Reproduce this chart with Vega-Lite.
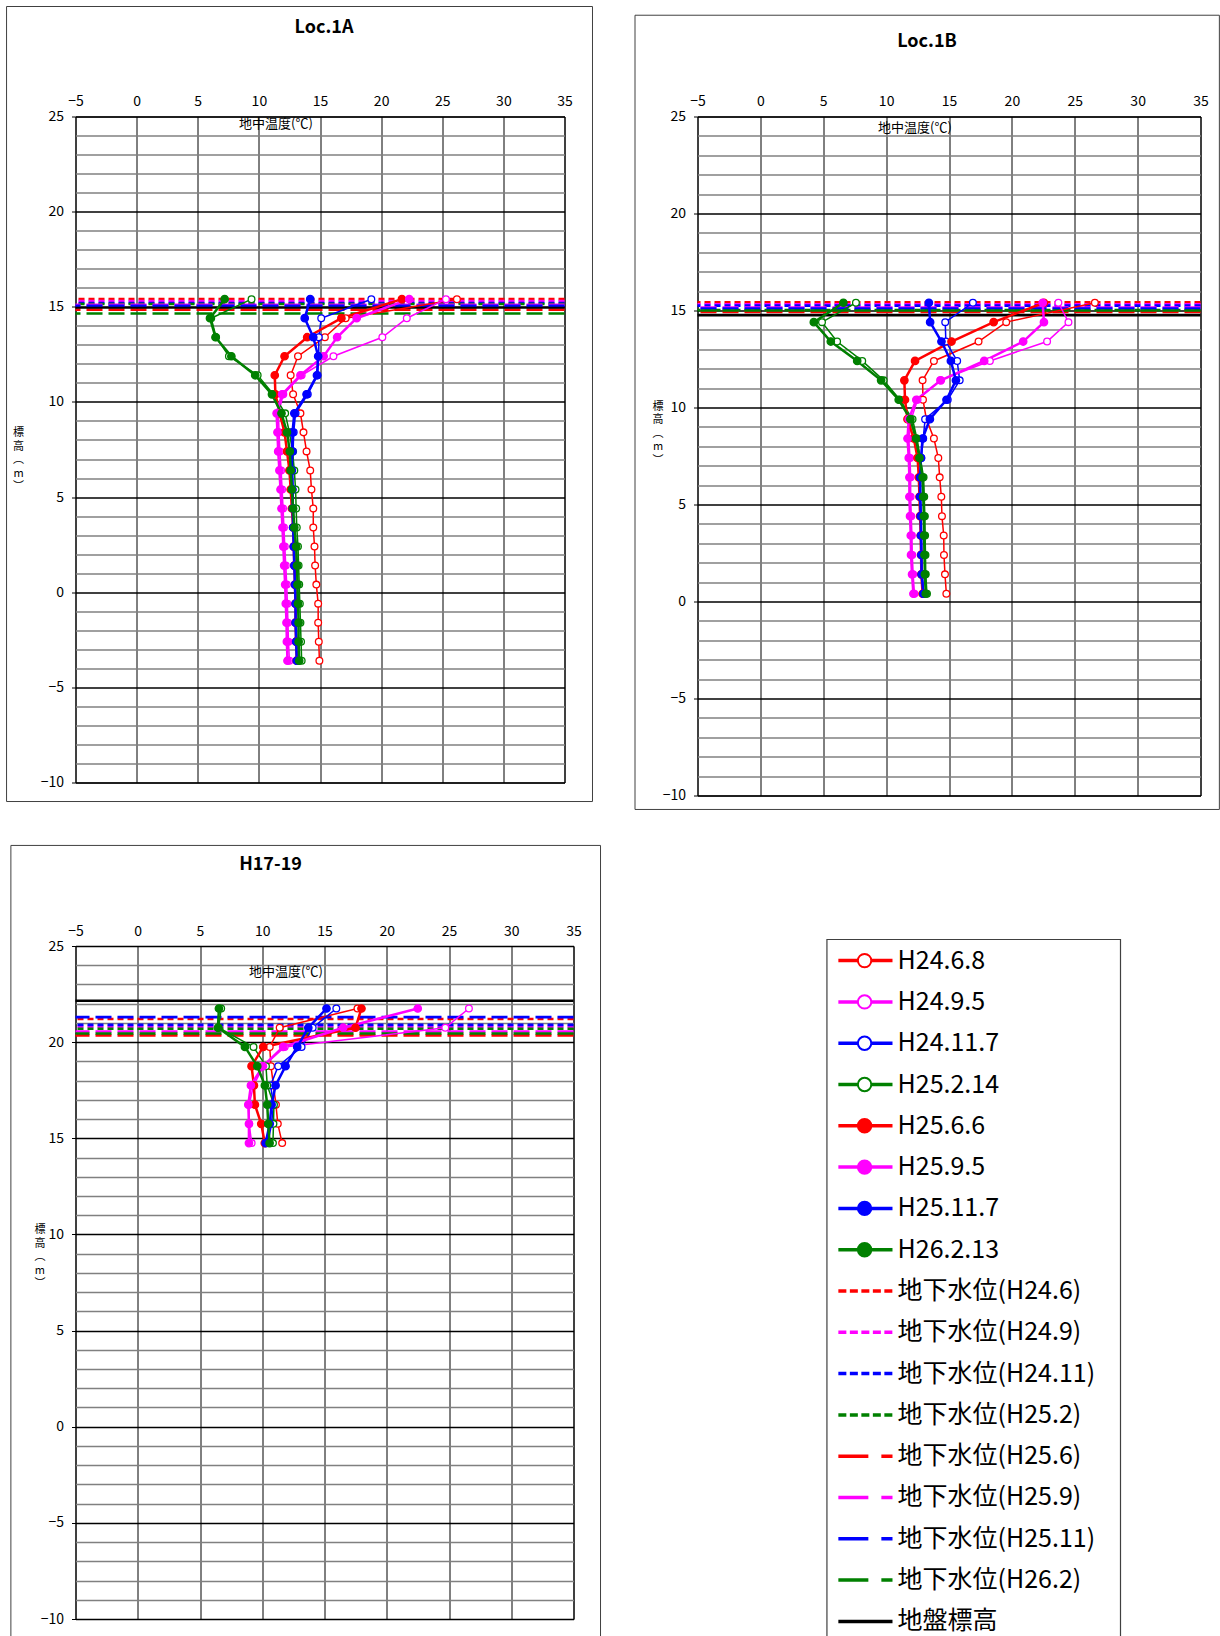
{
"$schema": "https://vega.github.io/schema/vega-lite/v6.json",
"autosize": {"type": "pad"},
"padding": {"left": 5.5, "top": 5.5, "right": 0, "bottom": 0},
"background": "white",
"config": {
  "font": "Noto Sans CJK JP",
  "view": {"stroke": "black", "strokeWidth": 1},
  "axis": {"labelFont": "Noto Sans CJK JP", "titleFont": "Noto Sans CJK JP", "labelColor": "black", "titleColor": "black"},
  "title": {"font": "Noto Sans CJK JP", "fontSize": 18, "fontWeight": "bold", "color": "black", "frame": "group", "anchor": "middle"}
},
"columns": 2,
"bounds": "flush",
"align": "each",
"spacing": {"row": 150.5, "column": 124},
"resolve": {"scale": {"color": "independent", "stroke": "independent", "strokeDash": "independent", "fill": "independent", "size": "independent", "strokeWidth": "independent"}},
"datasets": {
"temp": [
{"panel":"A","series":"H24.6.8","elev":15.4,"temp":26.2},{"panel":"A","series":"H24.6.8","elev":14.4,"temp":17.1},{"panel":"A","series":"H24.6.8","elev":13.4,"temp":15.4},{"panel":"A","series":"H24.6.8","elev":12.4,"temp":13.2},{"panel":"A","series":"H24.6.8","elev":11.4,"temp":12.6},{"panel":"A","series":"H24.6.8","elev":10.4,"temp":12.8},{"panel":"A","series":"H24.6.8","elev":9.4,"temp":13.4},{"panel":"A","series":"H24.6.8","elev":8.4,"temp":13.65},{"panel":"A","series":"H24.6.8","elev":7.4,"temp":13.9},{"panel":"A","series":"H24.6.8","elev":6.4,"temp":14.2},{"panel":"A","series":"H24.6.8","elev":5.4,"temp":14.3},{"panel":"A","series":"H24.6.8","elev":4.4,"temp":14.45},{"panel":"A","series":"H24.6.8","elev":3.4,"temp":14.45},{"panel":"A","series":"H24.6.8","elev":2.4,"temp":14.55},{"panel":"A","series":"H24.6.8","elev":1.4,"temp":14.6},{"panel":"A","series":"H24.6.8","elev":0.4,"temp":14.7},{"panel":"A","series":"H24.6.8","elev":-0.6,"temp":14.85},{"panel":"A","series":"H24.6.8","elev":-1.6,"temp":14.85},{"panel":"A","series":"H24.6.8","elev":-2.6,"temp":14.9},{"panel":"A","series":"H24.6.8","elev":-3.6,"temp":14.95},
{"panel":"A","series":"H24.9.5","elev":15.4,"temp":25.3},{"panel":"A","series":"H24.9.5","elev":14.4,"temp":22.1},{"panel":"A","series":"H24.9.5","elev":13.4,"temp":20.1},{"panel":"A","series":"H24.9.5","elev":12.4,"temp":16.1},{"panel":"A","series":"H24.9.5","elev":11.4,"temp":13.5},{"panel":"A","series":"H24.9.5","elev":10.4,"temp":12.0},{"panel":"A","series":"H24.9.5","elev":9.4,"temp":11.6},{"panel":"A","series":"H24.9.5","elev":8.4,"temp":11.65},{"panel":"A","series":"H24.9.5","elev":7.4,"temp":11.72},{"panel":"A","series":"H24.9.5","elev":6.4,"temp":11.82},{"panel":"A","series":"H24.9.5","elev":5.4,"temp":11.9},{"panel":"A","series":"H24.9.5","elev":4.4,"temp":11.98},{"panel":"A","series":"H24.9.5","elev":3.4,"temp":12.05},{"panel":"A","series":"H24.9.5","elev":2.4,"temp":12.12},{"panel":"A","series":"H24.9.5","elev":1.4,"temp":12.2},{"panel":"A","series":"H24.9.5","elev":0.4,"temp":12.28},{"panel":"A","series":"H24.9.5","elev":-0.6,"temp":12.33},{"panel":"A","series":"H24.9.5","elev":-1.6,"temp":12.38},{"panel":"A","series":"H24.9.5","elev":-2.6,"temp":12.42},{"panel":"A","series":"H24.9.5","elev":-3.6,"temp":12.5},
{"panel":"A","series":"H24.11.7","elev":15.4,"temp":19.2},{"panel":"A","series":"H24.11.7","elev":14.4,"temp":15.1},{"panel":"A","series":"H24.11.7","elev":13.4,"temp":14.9},{"panel":"A","series":"H24.11.7","elev":12.4,"temp":14.9},{"panel":"A","series":"H24.11.7","elev":11.4,"temp":14.8},{"panel":"A","series":"H24.11.7","elev":10.4,"temp":14.0},{"panel":"A","series":"H24.11.7","elev":9.4,"temp":13.0},{"panel":"A","series":"H24.11.7","elev":8.4,"temp":12.85},{"panel":"A","series":"H24.11.7","elev":7.4,"temp":12.8},{"panel":"A","series":"H24.11.7","elev":6.4,"temp":12.75},{"panel":"A","series":"H24.11.7","elev":5.4,"temp":12.8},{"panel":"A","series":"H24.11.7","elev":4.4,"temp":12.82},{"panel":"A","series":"H24.11.7","elev":3.4,"temp":12.87},{"panel":"A","series":"H24.11.7","elev":2.4,"temp":12.92},{"panel":"A","series":"H24.11.7","elev":1.4,"temp":12.97},{"panel":"A","series":"H24.11.7","elev":0.4,"temp":13.02},{"panel":"A","series":"H24.11.7","elev":-0.6,"temp":13.06},{"panel":"A","series":"H24.11.7","elev":-1.6,"temp":13.08},{"panel":"A","series":"H24.11.7","elev":-2.6,"temp":13.12},{"panel":"A","series":"H24.11.7","elev":-3.6,"temp":13.17},
{"panel":"A","series":"H25.2.14","elev":15.4,"temp":9.4},{"panel":"A","series":"H25.2.14","elev":14.4,"temp":6.1},{"panel":"A","series":"H25.2.14","elev":13.4,"temp":6.5},{"panel":"A","series":"H25.2.14","elev":12.4,"temp":7.55},{"panel":"A","series":"H25.2.14","elev":11.4,"temp":9.9},{"panel":"A","series":"H25.2.14","elev":10.4,"temp":11.2},{"panel":"A","series":"H25.2.14","elev":9.4,"temp":12.15},{"panel":"A","series":"H25.2.14","elev":8.4,"temp":12.5},{"panel":"A","series":"H25.2.14","elev":7.4,"temp":12.75},{"panel":"A","series":"H25.2.14","elev":6.4,"temp":12.9},{"panel":"A","series":"H25.2.14","elev":5.4,"temp":13.0},{"panel":"A","series":"H25.2.14","elev":4.4,"temp":13.05},{"panel":"A","series":"H25.2.14","elev":3.4,"temp":13.1},{"panel":"A","series":"H25.2.14","elev":2.4,"temp":13.2},{"panel":"A","series":"H25.2.14","elev":1.4,"temp":13.25},{"panel":"A","series":"H25.2.14","elev":0.4,"temp":13.3},{"panel":"A","series":"H25.2.14","elev":-0.6,"temp":13.35},{"panel":"A","series":"H25.2.14","elev":-1.6,"temp":13.4},{"panel":"A","series":"H25.2.14","elev":-2.6,"temp":13.45},{"panel":"A","series":"H25.2.14","elev":-3.6,"temp":13.5},
{"panel":"A","series":"H25.6.6","elev":15.4,"temp":21.7},{"panel":"A","series":"H25.6.6","elev":14.4,"temp":16.75},{"panel":"A","series":"H25.6.6","elev":13.4,"temp":13.95},{"panel":"A","series":"H25.6.6","elev":12.4,"temp":12.1},{"panel":"A","series":"H25.6.6","elev":11.4,"temp":11.3},{"panel":"A","series":"H25.6.6","elev":10.4,"temp":11.35},{"panel":"A","series":"H25.6.6","elev":9.4,"temp":11.7},{"panel":"A","series":"H25.6.6","elev":8.4,"temp":12.1},{"panel":"A","series":"H25.6.6","elev":7.4,"temp":12.3},{"panel":"A","series":"H25.6.6","elev":6.4,"temp":12.5},{"panel":"A","series":"H25.6.6","elev":5.4,"temp":12.6},{"panel":"A","series":"H25.6.6","elev":4.4,"temp":12.7},{"panel":"A","series":"H25.6.6","elev":3.4,"temp":12.8},{"panel":"A","series":"H25.6.6","elev":2.4,"temp":12.85},{"panel":"A","series":"H25.6.6","elev":1.4,"temp":12.9},{"panel":"A","series":"H25.6.6","elev":0.4,"temp":12.95},{"panel":"A","series":"H25.6.6","elev":-0.6,"temp":13.0},{"panel":"A","series":"H25.6.6","elev":-1.6,"temp":13.0},{"panel":"A","series":"H25.6.6","elev":-2.6,"temp":13.05},{"panel":"A","series":"H25.6.6","elev":-3.6,"temp":13.1},
{"panel":"A","series":"H25.9.5","elev":15.4,"temp":22.3},{"panel":"A","series":"H25.9.5","elev":14.4,"temp":18.0},{"panel":"A","series":"H25.9.5","elev":13.4,"temp":16.4},{"panel":"A","series":"H25.9.5","elev":12.4,"temp":15.3},{"panel":"A","series":"H25.9.5","elev":11.4,"temp":13.4},{"panel":"A","series":"H25.9.5","elev":10.4,"temp":11.9},{"panel":"A","series":"H25.9.5","elev":9.4,"temp":11.45},{"panel":"A","series":"H25.9.5","elev":8.4,"temp":11.52},{"panel":"A","series":"H25.9.5","elev":7.4,"temp":11.58},{"panel":"A","series":"H25.9.5","elev":6.4,"temp":11.68},{"panel":"A","series":"H25.9.5","elev":5.4,"temp":11.77},{"panel":"A","series":"H25.9.5","elev":4.4,"temp":11.85},{"panel":"A","series":"H25.9.5","elev":3.4,"temp":11.93},{"panel":"A","series":"H25.9.5","elev":2.4,"temp":12.0},{"panel":"A","series":"H25.9.5","elev":1.4,"temp":12.07},{"panel":"A","series":"H25.9.5","elev":0.4,"temp":12.15},{"panel":"A","series":"H25.9.5","elev":-0.6,"temp":12.2},{"panel":"A","series":"H25.9.5","elev":-1.6,"temp":12.26},{"panel":"A","series":"H25.9.5","elev":-2.6,"temp":12.29},{"panel":"A","series":"H25.9.5","elev":-3.6,"temp":12.34},
{"panel":"A","series":"H25.11.7","elev":15.4,"temp":14.2},{"panel":"A","series":"H25.11.7","elev":14.4,"temp":13.75},{"panel":"A","series":"H25.11.7","elev":13.4,"temp":14.45},{"panel":"A","series":"H25.11.7","elev":12.4,"temp":14.85},{"panel":"A","series":"H25.11.7","elev":11.4,"temp":14.75},{"panel":"A","series":"H25.11.7","elev":10.4,"temp":13.9},{"panel":"A","series":"H25.11.7","elev":9.4,"temp":12.9},{"panel":"A","series":"H25.11.7","elev":8.4,"temp":12.75},{"panel":"A","series":"H25.11.7","elev":7.4,"temp":12.72},{"panel":"A","series":"H25.11.7","elev":6.4,"temp":12.7},{"panel":"A","series":"H25.11.7","elev":5.4,"temp":12.75},{"panel":"A","series":"H25.11.7","elev":4.4,"temp":12.77},{"panel":"A","series":"H25.11.7","elev":3.4,"temp":12.8},{"panel":"A","series":"H25.11.7","elev":2.4,"temp":12.85},{"panel":"A","series":"H25.11.7","elev":1.4,"temp":12.9},{"panel":"A","series":"H25.11.7","elev":0.4,"temp":12.95},{"panel":"A","series":"H25.11.7","elev":-0.6,"temp":13.0},{"panel":"A","series":"H25.11.7","elev":-1.6,"temp":13.0},{"panel":"A","series":"H25.11.7","elev":-2.6,"temp":13.05},{"panel":"A","series":"H25.11.7","elev":-3.6,"temp":13.1},
{"panel":"A","series":"H26.2.13","elev":15.4,"temp":7.2},{"panel":"A","series":"H26.2.13","elev":14.4,"temp":6.0},{"panel":"A","series":"H26.2.13","elev":13.4,"temp":6.45},{"panel":"A","series":"H26.2.13","elev":12.4,"temp":7.75},{"panel":"A","series":"H26.2.13","elev":11.4,"temp":9.7},{"panel":"A","series":"H26.2.13","elev":10.4,"temp":11.07},{"panel":"A","series":"H26.2.13","elev":9.4,"temp":11.85},{"panel":"A","series":"H26.2.13","elev":8.4,"temp":12.3},{"panel":"A","series":"H26.2.13","elev":7.4,"temp":12.53},{"panel":"A","series":"H26.2.13","elev":6.4,"temp":12.6},{"panel":"A","series":"H26.2.13","elev":5.4,"temp":12.7},{"panel":"A","series":"H26.2.13","elev":4.4,"temp":12.8},{"panel":"A","series":"H26.2.13","elev":3.4,"temp":12.9},{"panel":"A","series":"H26.2.13","elev":2.4,"temp":13.05},{"panel":"A","series":"H26.2.13","elev":1.4,"temp":13.12},{"panel":"A","series":"H26.2.13","elev":0.4,"temp":13.16},{"panel":"A","series":"H26.2.13","elev":-0.6,"temp":13.2},{"panel":"A","series":"H26.2.13","elev":-1.6,"temp":13.25},{"panel":"A","series":"H26.2.13","elev":-2.6,"temp":13.25},{"panel":"A","series":"H26.2.13","elev":-3.6,"temp":13.3},
{"panel":"B","series":"H24.6.8","elev":15.4,"temp":26.6},{"panel":"B","series":"H24.6.8","elev":14.4,"temp":19.55},{"panel":"B","series":"H24.6.8","elev":13.4,"temp":17.35},{"panel":"B","series":"H24.6.8","elev":12.4,"temp":13.8},{"panel":"B","series":"H24.6.8","elev":11.4,"temp":12.9},{"panel":"B","series":"H24.6.8","elev":10.4,"temp":12.93},{"panel":"B","series":"H24.6.8","elev":9.4,"temp":13.2},{"panel":"B","series":"H24.6.8","elev":8.4,"temp":13.8},{"panel":"B","series":"H24.6.8","elev":7.4,"temp":14.15},{"panel":"B","series":"H24.6.8","elev":6.4,"temp":14.26},{"panel":"B","series":"H24.6.8","elev":5.4,"temp":14.39},{"panel":"B","series":"H24.6.8","elev":4.4,"temp":14.44},{"panel":"B","series":"H24.6.8","elev":3.4,"temp":14.58},{"panel":"B","series":"H24.6.8","elev":2.4,"temp":14.6},{"panel":"B","series":"H24.6.8","elev":1.4,"temp":14.68},{"panel":"B","series":"H24.6.8","elev":0.4,"temp":14.79},
{"panel":"B","series":"H24.9.5","elev":15.4,"temp":23.7},{"panel":"B","series":"H24.9.5","elev":14.4,"temp":24.5},{"panel":"B","series":"H24.9.5","elev":13.4,"temp":22.8},{"panel":"B","series":"H24.9.5","elev":12.4,"temp":18.25},{"panel":"B","series":"H24.9.5","elev":11.4,"temp":14.3},{"panel":"B","series":"H24.9.5","elev":10.4,"temp":12.5},{"panel":"B","series":"H24.9.5","elev":9.4,"temp":12.0},{"panel":"B","series":"H24.9.5","elev":8.4,"temp":11.8},{"panel":"B","series":"H24.9.5","elev":7.4,"temp":11.9},{"panel":"B","series":"H24.9.5","elev":6.4,"temp":11.95},{"panel":"B","series":"H24.9.5","elev":5.4,"temp":11.95},{"panel":"B","series":"H24.9.5","elev":4.4,"temp":12.0},{"panel":"B","series":"H24.9.5","elev":3.4,"temp":12.05},{"panel":"B","series":"H24.9.5","elev":2.4,"temp":12.08},{"panel":"B","series":"H24.9.5","elev":1.4,"temp":12.15},{"panel":"B","series":"H24.9.5","elev":0.4,"temp":12.25},
{"panel":"B","series":"H24.11.7","elev":15.4,"temp":16.9},{"panel":"B","series":"H24.11.7","elev":14.4,"temp":14.7},{"panel":"B","series":"H24.11.7","elev":13.4,"temp":14.75},{"panel":"B","series":"H24.11.7","elev":12.4,"temp":15.65},{"panel":"B","series":"H24.11.7","elev":11.4,"temp":15.85},{"panel":"B","series":"H24.11.7","elev":10.4,"temp":14.9},{"panel":"B","series":"H24.11.7","elev":9.4,"temp":13.1},{"panel":"B","series":"H24.11.7","elev":8.4,"temp":12.95},{"panel":"B","series":"H24.11.7","elev":7.4,"temp":12.8},{"panel":"B","series":"H24.11.7","elev":6.4,"temp":12.75},{"panel":"B","series":"H24.11.7","elev":5.4,"temp":12.75},{"panel":"B","series":"H24.11.7","elev":4.4,"temp":12.8},{"panel":"B","series":"H24.11.7","elev":3.4,"temp":12.82},{"panel":"B","series":"H24.11.7","elev":2.4,"temp":12.85},{"panel":"B","series":"H24.11.7","elev":1.4,"temp":12.88},{"panel":"B","series":"H24.11.7","elev":0.4,"temp":13.0},
{"panel":"B","series":"H25.2.14","elev":15.4,"temp":7.6},{"panel":"B","series":"H25.2.14","elev":14.4,"temp":4.9},{"panel":"B","series":"H25.2.14","elev":13.4,"temp":6.1},{"panel":"B","series":"H25.2.14","elev":12.4,"temp":8.1},{"panel":"B","series":"H25.2.14","elev":11.4,"temp":9.8},{"panel":"B","series":"H25.2.14","elev":10.4,"temp":11.1},{"panel":"B","series":"H25.2.14","elev":9.4,"temp":12.1},{"panel":"B","series":"H25.2.14","elev":8.4,"temp":12.45},{"panel":"B","series":"H25.2.14","elev":7.4,"temp":12.72},{"panel":"B","series":"H25.2.14","elev":6.4,"temp":12.98},{"panel":"B","series":"H25.2.14","elev":5.4,"temp":13.03},{"panel":"B","series":"H25.2.14","elev":4.4,"temp":13.08},{"panel":"B","series":"H25.2.14","elev":3.4,"temp":13.1},{"panel":"B","series":"H25.2.14","elev":2.4,"temp":13.13},{"panel":"B","series":"H25.2.14","elev":1.4,"temp":13.15},{"panel":"B","series":"H25.2.14","elev":0.4,"temp":13.25},
{"panel":"B","series":"H25.6.6","elev":15.4,"temp":22.55},{"panel":"B","series":"H25.6.6","elev":14.4,"temp":18.55},{"panel":"B","series":"H25.6.6","elev":13.4,"temp":15.2},{"panel":"B","series":"H25.6.6","elev":12.4,"temp":12.3},{"panel":"B","series":"H25.6.6","elev":11.4,"temp":11.45},{"panel":"B","series":"H25.6.6","elev":10.4,"temp":11.5},{"panel":"B","series":"H25.6.6","elev":9.4,"temp":11.7},{"panel":"B","series":"H25.6.6","elev":8.4,"temp":12.2},{"panel":"B","series":"H25.6.6","elev":7.4,"temp":12.5},{"panel":"B","series":"H25.6.6","elev":6.4,"temp":12.6},{"panel":"B","series":"H25.6.6","elev":5.4,"temp":12.65},{"panel":"B","series":"H25.6.6","elev":4.4,"temp":12.7},{"panel":"B","series":"H25.6.6","elev":3.4,"temp":12.75},{"panel":"B","series":"H25.6.6","elev":2.4,"temp":12.78},{"panel":"B","series":"H25.6.6","elev":1.4,"temp":12.8},{"panel":"B","series":"H25.6.6","elev":0.4,"temp":12.9},
{"panel":"B","series":"H25.9.5","elev":15.4,"temp":22.45},{"panel":"B","series":"H25.9.5","elev":14.4,"temp":22.55},{"panel":"B","series":"H25.9.5","elev":13.4,"temp":20.9},{"panel":"B","series":"H25.9.5","elev":12.4,"temp":17.8},{"panel":"B","series":"H25.9.5","elev":11.4,"temp":14.35},{"panel":"B","series":"H25.9.5","elev":10.4,"temp":12.4},{"panel":"B","series":"H25.9.5","elev":9.4,"temp":11.8},{"panel":"B","series":"H25.9.5","elev":8.4,"temp":11.7},{"panel":"B","series":"H25.9.5","elev":7.4,"temp":11.8},{"panel":"B","series":"H25.9.5","elev":6.4,"temp":11.85},{"panel":"B","series":"H25.9.5","elev":5.4,"temp":11.85},{"panel":"B","series":"H25.9.5","elev":4.4,"temp":11.9},{"panel":"B","series":"H25.9.5","elev":3.4,"temp":11.96},{"panel":"B","series":"H25.9.5","elev":2.4,"temp":11.98},{"panel":"B","series":"H25.9.5","elev":1.4,"temp":12.06},{"panel":"B","series":"H25.9.5","elev":0.4,"temp":12.17},
{"panel":"B","series":"H25.11.7","elev":15.4,"temp":13.4},{"panel":"B","series":"H25.11.7","elev":14.4,"temp":13.5},{"panel":"B","series":"H25.11.7","elev":13.4,"temp":14.4},{"panel":"B","series":"H25.11.7","elev":12.4,"temp":15.15},{"panel":"B","series":"H25.11.7","elev":11.4,"temp":15.55},{"panel":"B","series":"H25.11.7","elev":10.4,"temp":14.8},{"panel":"B","series":"H25.11.7","elev":9.4,"temp":13.48},{"panel":"B","series":"H25.11.7","elev":8.4,"temp":12.9},{"panel":"B","series":"H25.11.7","elev":7.4,"temp":12.77},{"panel":"B","series":"H25.11.7","elev":6.4,"temp":12.7},{"panel":"B","series":"H25.11.7","elev":5.4,"temp":12.7},{"panel":"B","series":"H25.11.7","elev":4.4,"temp":12.75},{"panel":"B","series":"H25.11.7","elev":3.4,"temp":12.77},{"panel":"B","series":"H25.11.7","elev":2.4,"temp":12.8},{"panel":"B","series":"H25.11.7","elev":1.4,"temp":12.82},{"panel":"B","series":"H25.11.7","elev":0.4,"temp":12.96},
{"panel":"B","series":"H26.2.13","elev":15.4,"temp":6.6},{"panel":"B","series":"H26.2.13","elev":14.4,"temp":4.25},{"panel":"B","series":"H26.2.13","elev":13.4,"temp":5.6},{"panel":"B","series":"H26.2.13","elev":12.4,"temp":7.7},{"panel":"B","series":"H26.2.13","elev":11.4,"temp":9.6},{"panel":"B","series":"H26.2.13","elev":10.4,"temp":11.0},{"panel":"B","series":"H26.2.13","elev":9.4,"temp":11.93},{"panel":"B","series":"H26.2.13","elev":8.4,"temp":12.38},{"panel":"B","series":"H26.2.13","elev":7.4,"temp":12.65},{"panel":"B","series":"H26.2.13","elev":6.4,"temp":12.9},{"panel":"B","series":"H26.2.13","elev":5.4,"temp":12.95},{"panel":"B","series":"H26.2.13","elev":4.4,"temp":13.0},{"panel":"B","series":"H26.2.13","elev":3.4,"temp":13.02},{"panel":"B","series":"H26.2.13","elev":2.4,"temp":13.05},{"panel":"B","series":"H26.2.13","elev":1.4,"temp":13.08},{"panel":"B","series":"H26.2.13","elev":0.4,"temp":13.15},
{"panel":"C","series":"H24.6.8","elev":21.75,"temp":17.65},{"panel":"C","series":"H24.6.8","elev":20.75,"temp":11.4},{"panel":"C","series":"H24.6.8","elev":19.75,"temp":10.6},{"panel":"C","series":"H24.6.8","elev":18.75,"temp":10.7},{"panel":"C","series":"H24.6.8","elev":17.75,"temp":10.9},{"panel":"C","series":"H24.6.8","elev":16.75,"temp":11.1},{"panel":"C","series":"H24.6.8","elev":15.75,"temp":11.25},{"panel":"C","series":"H24.6.8","elev":14.75,"temp":11.6},
{"panel":"C","series":"H24.9.5","elev":21.75,"temp":26.6},{"panel":"C","series":"H24.9.5","elev":20.75,"temp":24.7},{"panel":"C","series":"H24.9.5","elev":19.75,"temp":11.8},{"panel":"C","series":"H24.9.5","elev":18.75,"temp":10.1},{"panel":"C","series":"H24.9.5","elev":17.75,"temp":9.3},{"panel":"C","series":"H24.9.5","elev":16.75,"temp":8.95},{"panel":"C","series":"H24.9.5","elev":15.75,"temp":8.95},{"panel":"C","series":"H24.9.5","elev":14.75,"temp":9.15},
{"panel":"C","series":"H24.11.7","elev":21.75,"temp":15.95},{"panel":"C","series":"H24.11.7","elev":20.75,"temp":14.05},{"panel":"C","series":"H24.11.7","elev":19.75,"temp":13.16},{"panel":"C","series":"H24.11.7","elev":18.75,"temp":11.28},{"panel":"C","series":"H24.11.7","elev":17.75,"temp":10.67},{"panel":"C","series":"H24.11.7","elev":16.75,"temp":10.9},{"panel":"C","series":"H24.11.7","elev":15.75,"temp":10.75},{"panel":"C","series":"H24.11.7","elev":14.75,"temp":10.45},
{"panel":"C","series":"H25.2.14","elev":21.75,"temp":6.7},{"panel":"C","series":"H25.2.14","elev":20.75,"temp":6.5},{"panel":"C","series":"H25.2.14","elev":19.75,"temp":9.3},{"panel":"C","series":"H25.2.14","elev":18.75,"temp":10.3},{"panel":"C","series":"H25.2.14","elev":17.75,"temp":10.4},{"panel":"C","series":"H25.2.14","elev":16.75,"temp":10.94},{"panel":"C","series":"H25.2.14","elev":15.75,"temp":10.9},{"panel":"C","series":"H25.2.14","elev":14.75,"temp":10.86},
{"panel":"C","series":"H25.6.6","elev":21.75,"temp":17.97},{"panel":"C","series":"H25.6.6","elev":20.75,"temp":17.49},{"panel":"C","series":"H25.6.6","elev":19.75,"temp":10.08},{"panel":"C","series":"H25.6.6","elev":18.75,"temp":9.14},{"panel":"C","series":"H25.6.6","elev":17.75,"temp":9.33},{"panel":"C","series":"H25.6.6","elev":16.75,"temp":9.41},{"panel":"C","series":"H25.6.6","elev":15.75,"temp":9.92},{"panel":"C","series":"H25.6.6","elev":14.75,"temp":10.2},
{"panel":"C","series":"H25.9.5","elev":21.75,"temp":22.49},{"panel":"C","series":"H25.9.5","elev":20.75,"temp":16.5},{"panel":"C","series":"H25.9.5","elev":19.75,"temp":11.68},{"panel":"C","series":"H25.9.5","elev":18.75,"temp":10.05},{"panel":"C","series":"H25.9.5","elev":17.75,"temp":9.09},{"panel":"C","series":"H25.9.5","elev":16.75,"temp":8.88},{"panel":"C","series":"H25.9.5","elev":15.75,"temp":8.93},{"panel":"C","series":"H25.9.5","elev":14.75,"temp":8.93},
{"panel":"C","series":"H25.11.7","elev":21.75,"temp":15.16},{"panel":"C","series":"H25.11.7","elev":20.75,"temp":13.7},{"panel":"C","series":"H25.11.7","elev":19.75,"temp":12.81},{"panel":"C","series":"H25.11.7","elev":18.75,"temp":11.87},{"panel":"C","series":"H25.11.7","elev":17.75,"temp":11.07},{"panel":"C","series":"H25.11.7","elev":16.75,"temp":10.75},{"panel":"C","series":"H25.11.7","elev":15.75,"temp":10.6},{"panel":"C","series":"H25.11.7","elev":14.75,"temp":10.27},
{"panel":"C","series":"H26.2.13","elev":21.75,"temp":6.52},{"panel":"C","series":"H26.2.13","elev":20.75,"temp":6.44},{"panel":"C","series":"H26.2.13","elev":19.75,"temp":8.61},{"panel":"C","series":"H26.2.13","elev":18.75,"temp":9.6},{"panel":"C","series":"H26.2.13","elev":17.75,"temp":10.21},{"panel":"C","series":"H26.2.13","elev":16.75,"temp":10.4},{"panel":"C","series":"H26.2.13","elev":15.75,"temp":10.48},{"panel":"C","series":"H26.2.13","elev":14.75,"temp":10.59}
],
"gw": [
{"panel":"A","series":"地下水位(H24.6)","elev":15.4},{"panel":"A","series":"地下水位(H24.9)","elev":15.3},{"panel":"A","series":"地下水位(H24.11)","elev":15.2},{"panel":"A","series":"地下水位(H25.2)","elev":15.15},{"panel":"A","series":"地下水位(H25.6)","elev":14.85},{"panel":"A","series":"地下水位(H25.9)","elev":15.1},{"panel":"A","series":"地下水位(H25.11)","elev":15.05},{"panel":"A","series":"地下水位(H26.2)","elev":14.65},
{"panel":"B","series":"地下水位(H24.6)","elev":15.42},{"panel":"B","series":"地下水位(H24.9)","elev":15.32},{"panel":"B","series":"地下水位(H24.11)","elev":15.25},{"panel":"B","series":"地下水位(H25.2)","elev":15.02},{"panel":"B","series":"地下水位(H25.6)","elev":14.93},{"panel":"B","series":"地下水位(H25.9)","elev":15.15},{"panel":"B","series":"地下水位(H25.11)","elev":15.1},{"panel":"B","series":"地下水位(H26.2)","elev":15.0},
{"panel":"C","series":"地下水位(H24.6)","elev":21.2},{"panel":"C","series":"地下水位(H24.9)","elev":20.8},{"panel":"C","series":"地下水位(H24.11)","elev":20.9},{"panel":"C","series":"地下水位(H25.2)","elev":20.7},{"panel":"C","series":"地下水位(H25.6)","elev":20.35},{"panel":"C","series":"地下水位(H25.9)","elev":20.55},{"panel":"C","series":"地下水位(H25.11)","elev":21.3},{"panel":"C","series":"地下水位(H26.2)","elev":20.45}
],
"ground": [
{"panel":"A","series":"地盤標高","elev":14.95},{"panel":"B","series":"地盤標高","elev":14.76},{"panel":"C","series":"地盤標高","elev":22.15}
],
"legend": [
{"series":"H24.6.8","kind":"open"},{"series":"H24.9.5","kind":"open"},{"series":"H24.11.7","kind":"open"},{"series":"H25.2.14","kind":"open"},
{"series":"H25.6.6","kind":"filled"},{"series":"H25.9.5","kind":"filled"},{"series":"H25.11.7","kind":"filled"},{"series":"H26.2.13","kind":"filled"},
{"series":"地下水位(H24.6)","kind":"gw"},{"series":"地下水位(H24.9)","kind":"gw"},{"series":"地下水位(H24.11)","kind":"gw"},{"series":"地下水位(H25.2)","kind":"gw"},
{"series":"地下水位(H25.6)","kind":"gw"},{"series":"地下水位(H25.9)","kind":"gw"},{"series":"地下水位(H25.11)","kind":"gw"},{"series":"地下水位(H26.2)","kind":"gw"},
{"series":"地盤標高","kind":"ground"}
]
},
"concat": [
{
 "width": 489, "height": 666,
 "title": {"text": "Loc.1A", "dx": 4, "offset": -31},
 "layer": [
  {"data": {"values": [{}]}, "mark": {"type": "rect", "filled": false, "stroke": "#404040", "strokeWidth": 1}, "encoding": {
   "x": {"datum": -10.64, "type": "quantitative", "scale": {"domain": [-5, 35], "nice": false, "zero": false}, "axis": {"orient": "top", "values": [-5,0,5,10,15,20,25,30,35], "grid": true, "gridColor": "#000000", "gridWidth": 1, "domain": false, "ticks": false, "tickSize": 0, "labelPadding": 8, "labelFontSize": 14, "labelFlush": false, "labelOverlap": false, "title": "地中温度(℃)", "titleX": 200, "titleY": 1, "titleAlign": "center", "titleBaseline": "top", "titleFontSize": 13, "titleFontWeight": "normal"}},
   "x2": {"datum": 37.29},
   "y": {"datum": 30.78, "type": "quantitative", "scale": {"domain": [-10, 25], "nice": false, "zero": false}, "axis": {"values": [-10,-9,-8,-7,-6,-5,-4,-3,-2,-1,0,1,2,3,4,5,6,7,8,9,10,11,12,13,14,15,16,17,18,19,20,21,22,23,24,25], "grid": true, "gridColor": {"condition": {"test": "datum.value % 5 === 0", "value": "#000000"}, "value": "#808080"}, "gridWidth": 1.3, "domain": false, "tickSize": 4, "tickColor": "black", "tickOpacity": {"condition": {"test": "datum.value % 5 === 0", "value": 1}, "value": 0}, "labelExpr": "datum.value % 5 === 0 ? datum.label : ''", "labelOverlap": false, "labelPadding": 8, "labelFontSize": 14, "title": null}},
   "y2": {"datum": -11.0}}},
  {"data": {"values": [{}]}, "mark": {"type": "text", "text": ["標","高","︵","m","︶"], "lineHeight": 13.5, "fontSize": 11, "align": "center", "baseline": "top", "color": "black", "font": "Noto Sans CJK JP"}, "encoding": {
   "x": {"datum": -9.66, "type": "quantitative", "scale": {"domain": [-5, 35], "nice": false, "zero": false}, "axis": {"orient": "top", "values": [-5,0,5,10,15,20,25,30,35], "grid": true, "gridColor": "#000000", "gridWidth": 1, "domain": false, "ticks": false, "tickSize": 0, "labelPadding": 8, "labelFontSize": 14, "labelFlush": false, "labelOverlap": false, "title": "地中温度(℃)", "titleX": 200, "titleY": 1, "titleAlign": "center", "titleBaseline": "top", "titleFontSize": 13, "titleFontWeight": "normal"}},
   "y": {"datum": 8.68, "type": "quantitative", "scale": {"domain": [-10, 25], "nice": false, "zero": false}, "axis": {"values": [-10,-9,-8,-7,-6,-5,-4,-3,-2,-1,0,1,2,3,4,5,6,7,8,9,10,11,12,13,14,15,16,17,18,19,20,21,22,23,24,25], "grid": true, "gridColor": {"condition": {"test": "datum.value % 5 === 0", "value": "#000000"}, "value": "#808080"}, "gridWidth": 1.3, "domain": false, "tickSize": 4, "tickColor": "black", "tickOpacity": {"condition": {"test": "datum.value % 5 === 0", "value": 1}, "value": 0}, "labelExpr": "datum.value % 5 === 0 ? datum.label : ''", "labelOverlap": false, "labelPadding": 8, "labelFontSize": 14, "title": null}}}},
  {"data": {"name": "gw"}, "transform": [{"filter": "datum.panel === 'A'"}], "mark": {"type": "rule", "strokeWidth": 2.6}, "encoding": {
   "y": {"field": "elev", "type": "quantitative", "scale": {"domain": [-10, 25], "nice": false, "zero": false}, "axis": {"values": [-10,-9,-8,-7,-6,-5,-4,-3,-2,-1,0,1,2,3,4,5,6,7,8,9,10,11,12,13,14,15,16,17,18,19,20,21,22,23,24,25], "grid": true, "gridColor": {"condition": {"test": "datum.value % 5 === 0", "value": "#000000"}, "value": "#808080"}, "gridWidth": 1.3, "domain": false, "tickSize": 4, "tickColor": "black", "tickOpacity": {"condition": {"test": "datum.value % 5 === 0", "value": 1}, "value": 0}, "labelExpr": "datum.value % 5 === 0 ? datum.label : ''", "labelOverlap": false, "labelPadding": 8, "labelFontSize": 14, "title": null}},
   "color": {"field": "series", "type": "nominal", "legend": null, "scale": {"domain": ["H24.6.8","H24.9.5","H24.11.7","H25.2.14","H25.6.6","H25.9.5","H25.11.7","H26.2.13","地下水位(H24.6)","地下水位(H24.9)","地下水位(H24.11)","地下水位(H25.2)","地下水位(H25.6)","地下水位(H25.9)","地下水位(H25.11)","地下水位(H26.2)","地盤標高"], "range": ["#FF0000","#FF00FF","#0000FF","#008000","#FF0000","#FF00FF","#0000FF","#008000","#FF0000","#FF00FF","#0000FF","#008000","#FF0000","#FF00FF","#0000FF","#008000","#000000"]}},
   "strokeDash": {"field": "series", "type": "nominal", "legend": null, "scale": {"domain": ["地下水位(H24.6)","地下水位(H24.9)","地下水位(H24.11)","地下水位(H25.2)","地下水位(H25.6)","地下水位(H25.9)","地下水位(H25.11)","地下水位(H26.2)"], "range": [[6,4],[6,4],[6,4],[6,4],[16,6],[16,6],[16,6],[16,6]]}}}},
  {"data": {"name": "ground"}, "transform": [{"filter": "datum.panel === 'A'"}], "mark": {"type": "rule", "strokeWidth": 2.2, "color": "black"}, "encoding": {
   "y": {"field": "elev", "type": "quantitative", "scale": {"domain": [-10, 25], "nice": false, "zero": false}, "axis": {"values": [-10,-9,-8,-7,-6,-5,-4,-3,-2,-1,0,1,2,3,4,5,6,7,8,9,10,11,12,13,14,15,16,17,18,19,20,21,22,23,24,25], "grid": true, "gridColor": {"condition": {"test": "datum.value % 5 === 0", "value": "#000000"}, "value": "#808080"}, "gridWidth": 1.3, "domain": false, "tickSize": 4, "tickColor": "black", "tickOpacity": {"condition": {"test": "datum.value % 5 === 0", "value": 1}, "value": 0}, "labelExpr": "datum.value % 5 === 0 ? datum.label : ''", "labelOverlap": false, "labelPadding": 8, "labelFontSize": 14, "title": null}}}},
  {"data": {"name": "temp"}, "transform": [{"filter": "datum.panel === 'A'"}], "mark": {"type": "line"}, "encoding": {
   "x": {"field": "temp", "type": "quantitative", "scale": {"domain": [-5, 35], "nice": false, "zero": false}, "axis": {"orient": "top", "values": [-5,0,5,10,15,20,25,30,35], "grid": true, "gridColor": "#000000", "gridWidth": 1, "domain": false, "ticks": false, "tickSize": 0, "labelPadding": 8, "labelFontSize": 14, "labelFlush": false, "labelOverlap": false, "title": "地中温度(℃)", "titleX": 200, "titleY": 1, "titleAlign": "center", "titleBaseline": "top", "titleFontSize": 13, "titleFontWeight": "normal"}},
   "y": {"field": "elev", "type": "quantitative", "scale": {"domain": [-10, 25], "nice": false, "zero": false}, "axis": {"values": [-10,-9,-8,-7,-6,-5,-4,-3,-2,-1,0,1,2,3,4,5,6,7,8,9,10,11,12,13,14,15,16,17,18,19,20,21,22,23,24,25], "grid": true, "gridColor": {"condition": {"test": "datum.value % 5 === 0", "value": "#000000"}, "value": "#808080"}, "gridWidth": 1.3, "domain": false, "tickSize": 4, "tickColor": "black", "tickOpacity": {"condition": {"test": "datum.value % 5 === 0", "value": 1}, "value": 0}, "labelExpr": "datum.value % 5 === 0 ? datum.label : ''", "labelOverlap": false, "labelPadding": 8, "labelFontSize": 14, "title": null}},
   "order": {"field": "elev", "type": "quantitative"},
   "strokeWidth": {"field": "series", "type": "ordinal", "legend": null, "scale": {"type": "ordinal", "domain": ["H24.6.8","H24.9.5","H24.11.7","H25.2.14","H25.6.6","H25.9.5","H25.11.7","H26.2.13"], "range": [1.5,1.5,1.5,1.5,2.5,2.5,2.5,2.5]}},
   "color": {"field": "series", "type": "nominal", "legend": null, "scale": {"domain": ["H24.6.8","H24.9.5","H24.11.7","H25.2.14","H25.6.6","H25.9.5","H25.11.7","H26.2.13","地下水位(H24.6)","地下水位(H24.9)","地下水位(H24.11)","地下水位(H25.2)","地下水位(H25.6)","地下水位(H25.9)","地下水位(H25.11)","地下水位(H26.2)","地盤標高"], "range": ["#FF0000","#FF00FF","#0000FF","#008000","#FF0000","#FF00FF","#0000FF","#008000","#FF0000","#FF00FF","#0000FF","#008000","#FF0000","#FF00FF","#0000FF","#008000","#000000"]}}}},
  {"data": {"name": "temp"}, "transform": [{"filter": "datum.panel === 'A'"}], "mark": {"type": "circle", "strokeWidth": 1.3, "opacity": 1}, "encoding": {
   "x": {"field": "temp", "type": "quantitative", "scale": {"domain": [-5, 35], "nice": false, "zero": false}, "axis": {"orient": "top", "values": [-5,0,5,10,15,20,25,30,35], "grid": true, "gridColor": "#000000", "gridWidth": 1, "domain": false, "ticks": false, "tickSize": 0, "labelPadding": 8, "labelFontSize": 14, "labelFlush": false, "labelOverlap": false, "title": "地中温度(℃)", "titleX": 200, "titleY": 1, "titleAlign": "center", "titleBaseline": "top", "titleFontSize": 13, "titleFontWeight": "normal"}},
   "y": {"field": "elev", "type": "quantitative", "scale": {"domain": [-10, 25], "nice": false, "zero": false}, "axis": {"values": [-10,-9,-8,-7,-6,-5,-4,-3,-2,-1,0,1,2,3,4,5,6,7,8,9,10,11,12,13,14,15,16,17,18,19,20,21,22,23,24,25], "grid": true, "gridColor": {"condition": {"test": "datum.value % 5 === 0", "value": "#000000"}, "value": "#808080"}, "gridWidth": 1.3, "domain": false, "tickSize": 4, "tickColor": "black", "tickOpacity": {"condition": {"test": "datum.value % 5 === 0", "value": 1}, "value": 0}, "labelExpr": "datum.value % 5 === 0 ? datum.label : ''", "labelOverlap": false, "labelPadding": 8, "labelFontSize": 14, "title": null}},
   "fill": {"field": "series", "type": "nominal", "legend": null, "scale": {"domain": ["H24.6.8","H24.9.5","H24.11.7","H25.2.14","H25.6.6","H25.9.5","H25.11.7","H26.2.13"], "range": ["#FFFFFF","#FFFFFF","#FFFFFF","#FFFFFF","#FF0000","#FF00FF","#0000FF","#008000"]}},
   "size": {"field": "series", "type": "ordinal", "legend": null, "scale": {"type": "ordinal", "domain": ["H24.6.8","H24.9.5","H24.11.7","H25.2.14","H25.6.6","H25.9.5","H25.11.7","H26.2.13"], "range": [45,45,45,45,55,55,55,55]}},
   "stroke": {"field": "series", "type": "nominal", "legend": null, "scale": {"domain": ["H24.6.8","H24.9.5","H24.11.7","H25.2.14","H25.6.6","H25.9.5","H25.11.7","H26.2.13","地下水位(H24.6)","地下水位(H24.9)","地下水位(H24.11)","地下水位(H25.2)","地下水位(H25.6)","地下水位(H25.9)","地下水位(H25.11)","地下水位(H26.2)","地盤標高"], "range": ["#FF0000","#FF00FF","#0000FF","#008000","#FF0000","#FF00FF","#0000FF","#008000","#FF0000","#FF00FF","#0000FF","#008000","#FF0000","#FF00FF","#0000FF","#008000","#000000"]}}}}
 ]
},
{
 "width": 503, "height": 679,
 "title": {"text": "Loc.1B", "dx": -22, "offset": -36},
 "layer": [
  {"data": {"values": [{}]}, "mark": {"type": "rect", "filled": false, "stroke": "#404040", "strokeWidth": 1}, "encoding": {
   "x": {"datum": -9.97, "type": "quantitative", "scale": {"domain": [-5, 35], "nice": false, "zero": false}, "axis": {"orient": "top", "values": [-5,0,5,10,15,20,25,30,35], "grid": true, "gridColor": "#000000", "gridWidth": 1, "domain": false, "ticks": false, "tickSize": 0, "labelPadding": 8, "labelFontSize": 14, "labelFlush": false, "labelOverlap": false, "title": "地中温度(℃)", "titleX": 217, "titleY": 5, "titleAlign": "center", "titleBaseline": "top", "titleFontSize": 13, "titleFontWeight": "normal"}},
   "x2": {"datum": 36.5},
   "y": {"datum": 30.22, "type": "quantitative", "scale": {"domain": [-10, 25], "nice": false, "zero": false}, "axis": {"values": [-10,-9,-8,-7,-6,-5,-4,-3,-2,-1,0,1,2,3,4,5,6,7,8,9,10,11,12,13,14,15,16,17,18,19,20,21,22,23,24,25], "grid": true, "gridColor": {"condition": {"test": "datum.value % 5 === 0", "value": "#000000"}, "value": "#808080"}, "gridWidth": 1.3, "domain": false, "tickSize": 4, "tickColor": "black", "tickOpacity": {"condition": {"test": "datum.value % 5 === 0", "value": 1}, "value": 0}, "labelExpr": "datum.value % 5 === 0 ? datum.label : ''", "labelOverlap": false, "labelPadding": 8, "labelFontSize": 14, "title": null}},
   "y2": {"datum": -10.72}}},
  {"data": {"values": [{}]}, "mark": {"type": "text", "text": ["標","高","︵","m","︶"], "lineHeight": 13.5, "fontSize": 11, "align": "center", "baseline": "top", "color": "black", "font": "Noto Sans CJK JP"}, "encoding": {
   "x": {"datum": -8.14, "type": "quantitative", "scale": {"domain": [-5, 35], "nice": false, "zero": false}, "axis": {"orient": "top", "values": [-5,0,5,10,15,20,25,30,35], "grid": true, "gridColor": "#000000", "gridWidth": 1, "domain": false, "ticks": false, "tickSize": 0, "labelPadding": 8, "labelFontSize": 14, "labelFlush": false, "labelOverlap": false, "title": "地中温度(℃)", "titleX": 217, "titleY": 5, "titleAlign": "center", "titleBaseline": "top", "titleFontSize": 13, "titleFontWeight": "normal"}},
   "y": {"datum": 10.34, "type": "quantitative", "scale": {"domain": [-10, 25], "nice": false, "zero": false}, "axis": {"values": [-10,-9,-8,-7,-6,-5,-4,-3,-2,-1,0,1,2,3,4,5,6,7,8,9,10,11,12,13,14,15,16,17,18,19,20,21,22,23,24,25], "grid": true, "gridColor": {"condition": {"test": "datum.value % 5 === 0", "value": "#000000"}, "value": "#808080"}, "gridWidth": 1.3, "domain": false, "tickSize": 4, "tickColor": "black", "tickOpacity": {"condition": {"test": "datum.value % 5 === 0", "value": 1}, "value": 0}, "labelExpr": "datum.value % 5 === 0 ? datum.label : ''", "labelOverlap": false, "labelPadding": 8, "labelFontSize": 14, "title": null}}}},
  {"data": {"name": "gw"}, "transform": [{"filter": "datum.panel === 'B'"}], "mark": {"type": "rule", "strokeWidth": 2.6}, "encoding": {
   "y": {"field": "elev", "type": "quantitative", "scale": {"domain": [-10, 25], "nice": false, "zero": false}, "axis": {"values": [-10,-9,-8,-7,-6,-5,-4,-3,-2,-1,0,1,2,3,4,5,6,7,8,9,10,11,12,13,14,15,16,17,18,19,20,21,22,23,24,25], "grid": true, "gridColor": {"condition": {"test": "datum.value % 5 === 0", "value": "#000000"}, "value": "#808080"}, "gridWidth": 1.3, "domain": false, "tickSize": 4, "tickColor": "black", "tickOpacity": {"condition": {"test": "datum.value % 5 === 0", "value": 1}, "value": 0}, "labelExpr": "datum.value % 5 === 0 ? datum.label : ''", "labelOverlap": false, "labelPadding": 8, "labelFontSize": 14, "title": null}},
   "color": {"field": "series", "type": "nominal", "legend": null, "scale": {"domain": ["H24.6.8","H24.9.5","H24.11.7","H25.2.14","H25.6.6","H25.9.5","H25.11.7","H26.2.13","地下水位(H24.6)","地下水位(H24.9)","地下水位(H24.11)","地下水位(H25.2)","地下水位(H25.6)","地下水位(H25.9)","地下水位(H25.11)","地下水位(H26.2)","地盤標高"], "range": ["#FF0000","#FF00FF","#0000FF","#008000","#FF0000","#FF00FF","#0000FF","#008000","#FF0000","#FF00FF","#0000FF","#008000","#FF0000","#FF00FF","#0000FF","#008000","#000000"]}},
   "strokeDash": {"field": "series", "type": "nominal", "legend": null, "scale": {"domain": ["地下水位(H24.6)","地下水位(H24.9)","地下水位(H24.11)","地下水位(H25.2)","地下水位(H25.6)","地下水位(H25.9)","地下水位(H25.11)","地下水位(H26.2)"], "range": [[6,4],[6,4],[6,4],[6,4],[16,6],[16,6],[16,6],[16,6]]}}}},
  {"data": {"name": "ground"}, "transform": [{"filter": "datum.panel === 'B'"}], "mark": {"type": "rule", "strokeWidth": 2.6, "color": "black"}, "encoding": {
   "y": {"field": "elev", "type": "quantitative", "scale": {"domain": [-10, 25], "nice": false, "zero": false}, "axis": {"values": [-10,-9,-8,-7,-6,-5,-4,-3,-2,-1,0,1,2,3,4,5,6,7,8,9,10,11,12,13,14,15,16,17,18,19,20,21,22,23,24,25], "grid": true, "gridColor": {"condition": {"test": "datum.value % 5 === 0", "value": "#000000"}, "value": "#808080"}, "gridWidth": 1.3, "domain": false, "tickSize": 4, "tickColor": "black", "tickOpacity": {"condition": {"test": "datum.value % 5 === 0", "value": 1}, "value": 0}, "labelExpr": "datum.value % 5 === 0 ? datum.label : ''", "labelOverlap": false, "labelPadding": 8, "labelFontSize": 14, "title": null}}}},
  {"data": {"name": "temp"}, "transform": [{"filter": "datum.panel === 'B'"}], "mark": {"type": "line"}, "encoding": {
   "x": {"field": "temp", "type": "quantitative", "scale": {"domain": [-5, 35], "nice": false, "zero": false}, "axis": {"orient": "top", "values": [-5,0,5,10,15,20,25,30,35], "grid": true, "gridColor": "#000000", "gridWidth": 1, "domain": false, "ticks": false, "tickSize": 0, "labelPadding": 8, "labelFontSize": 14, "labelFlush": false, "labelOverlap": false, "title": "地中温度(℃)", "titleX": 217, "titleY": 5, "titleAlign": "center", "titleBaseline": "top", "titleFontSize": 13, "titleFontWeight": "normal"}},
   "y": {"field": "elev", "type": "quantitative", "scale": {"domain": [-10, 25], "nice": false, "zero": false}, "axis": {"values": [-10,-9,-8,-7,-6,-5,-4,-3,-2,-1,0,1,2,3,4,5,6,7,8,9,10,11,12,13,14,15,16,17,18,19,20,21,22,23,24,25], "grid": true, "gridColor": {"condition": {"test": "datum.value % 5 === 0", "value": "#000000"}, "value": "#808080"}, "gridWidth": 1.3, "domain": false, "tickSize": 4, "tickColor": "black", "tickOpacity": {"condition": {"test": "datum.value % 5 === 0", "value": 1}, "value": 0}, "labelExpr": "datum.value % 5 === 0 ? datum.label : ''", "labelOverlap": false, "labelPadding": 8, "labelFontSize": 14, "title": null}},
   "order": {"field": "elev", "type": "quantitative"},
   "strokeWidth": {"field": "series", "type": "ordinal", "legend": null, "scale": {"type": "ordinal", "domain": ["H24.6.8","H24.9.5","H24.11.7","H25.2.14","H25.6.6","H25.9.5","H25.11.7","H26.2.13"], "range": [1.5,1.5,1.5,1.5,2.5,2.5,2.5,2.5]}},
   "color": {"field": "series", "type": "nominal", "legend": null, "scale": {"domain": ["H24.6.8","H24.9.5","H24.11.7","H25.2.14","H25.6.6","H25.9.5","H25.11.7","H26.2.13","地下水位(H24.6)","地下水位(H24.9)","地下水位(H24.11)","地下水位(H25.2)","地下水位(H25.6)","地下水位(H25.9)","地下水位(H25.11)","地下水位(H26.2)","地盤標高"], "range": ["#FF0000","#FF00FF","#0000FF","#008000","#FF0000","#FF00FF","#0000FF","#008000","#FF0000","#FF00FF","#0000FF","#008000","#FF0000","#FF00FF","#0000FF","#008000","#000000"]}}}},
  {"data": {"name": "temp"}, "transform": [{"filter": "datum.panel === 'B'"}], "mark": {"type": "circle", "strokeWidth": 1.3, "opacity": 1}, "encoding": {
   "x": {"field": "temp", "type": "quantitative", "scale": {"domain": [-5, 35], "nice": false, "zero": false}, "axis": {"orient": "top", "values": [-5,0,5,10,15,20,25,30,35], "grid": true, "gridColor": "#000000", "gridWidth": 1, "domain": false, "ticks": false, "tickSize": 0, "labelPadding": 8, "labelFontSize": 14, "labelFlush": false, "labelOverlap": false, "title": "地中温度(℃)", "titleX": 217, "titleY": 5, "titleAlign": "center", "titleBaseline": "top", "titleFontSize": 13, "titleFontWeight": "normal"}},
   "y": {"field": "elev", "type": "quantitative", "scale": {"domain": [-10, 25], "nice": false, "zero": false}, "axis": {"values": [-10,-9,-8,-7,-6,-5,-4,-3,-2,-1,0,1,2,3,4,5,6,7,8,9,10,11,12,13,14,15,16,17,18,19,20,21,22,23,24,25], "grid": true, "gridColor": {"condition": {"test": "datum.value % 5 === 0", "value": "#000000"}, "value": "#808080"}, "gridWidth": 1.3, "domain": false, "tickSize": 4, "tickColor": "black", "tickOpacity": {"condition": {"test": "datum.value % 5 === 0", "value": 1}, "value": 0}, "labelExpr": "datum.value % 5 === 0 ? datum.label : ''", "labelOverlap": false, "labelPadding": 8, "labelFontSize": 14, "title": null}},
   "fill": {"field": "series", "type": "nominal", "legend": null, "scale": {"domain": ["H24.6.8","H24.9.5","H24.11.7","H25.2.14","H25.6.6","H25.9.5","H25.11.7","H26.2.13"], "range": ["#FFFFFF","#FFFFFF","#FFFFFF","#FFFFFF","#FF0000","#FF00FF","#0000FF","#008000"]}},
   "size": {"field": "series", "type": "ordinal", "legend": null, "scale": {"type": "ordinal", "domain": ["H24.6.8","H24.9.5","H24.11.7","H25.2.14","H25.6.6","H25.9.5","H25.11.7","H26.2.13"], "range": [45,45,45,45,55,55,55,55]}},
   "stroke": {"field": "series", "type": "nominal", "legend": null, "scale": {"domain": ["H24.6.8","H24.9.5","H24.11.7","H25.2.14","H25.6.6","H25.9.5","H25.11.7","H26.2.13","地下水位(H24.6)","地下水位(H24.9)","地下水位(H24.11)","地下水位(H25.2)","地下水位(H25.6)","地下水位(H25.9)","地下水位(H25.11)","地下水位(H26.2)","地盤標高"], "range": ["#FF0000","#FF00FF","#0000FF","#008000","#FF0000","#FF00FF","#0000FF","#008000","#FF0000","#FF00FF","#0000FF","#008000","#FF0000","#FF00FF","#0000FF","#008000","#000000"]}}}}
 ]
},
{
 "width": 498, "height": 673,
 "title": {"text": "H17-19", "dx": -54, "offset": -29.5},
 "layer": [
  {"data": {"values": [{}]}, "mark": {"type": "rect", "filled": false, "stroke": "#404040", "strokeWidth": 1}, "encoding": {
   "x": {"datum": -10.19, "type": "quantitative", "scale": {"domain": [-5, 35], "nice": false, "zero": false}, "axis": {"orient": "top", "values": [-5,0,5,10,15,20,25,30,35], "grid": true, "gridColor": "#000000", "gridWidth": 1, "domain": false, "ticks": false, "tickSize": 0, "labelPadding": 8, "labelFontSize": 14, "labelFlush": false, "labelOverlap": false, "title": "地中温度(℃)", "titleX": 210, "titleY": 19.5, "titleAlign": "center", "titleBaseline": "top", "titleFontSize": 13, "titleFontWeight": "normal"}},
   "x2": {"datum": 37.17},
   "y": {"datum": 30.23, "type": "quantitative", "scale": {"domain": [-10, 25], "nice": false, "zero": false}, "axis": {"values": [-10,-9,-8,-7,-6,-5,-4,-3,-2,-1,0,1,2,3,4,5,6,7,8,9,10,11,12,13,14,15,16,17,18,19,20,21,22,23,24,25], "grid": true, "gridColor": {"condition": {"test": "datum.value % 5 === 0", "value": "#000000"}, "value": "#808080"}, "gridWidth": 1.3, "domain": false, "tickSize": 4, "tickColor": "black", "tickOpacity": {"condition": {"test": "datum.value % 5 === 0", "value": 1}, "value": 0}, "labelExpr": "datum.value % 5 === 0 ? datum.label : ''", "labelOverlap": false, "labelPadding": 8, "labelFontSize": 14, "title": null}},
   "y2": {"datum": -11.6}}},
  {"data": {"values": [{}]}, "mark": {"type": "text", "text": ["標","高","︵","m","︶"], "lineHeight": 13.5, "fontSize": 11, "align": "center", "baseline": "top", "color": "black", "font": "Noto Sans CJK JP"}, "encoding": {
   "x": {"datum": -7.86, "type": "quantitative", "scale": {"domain": [-5, 35], "nice": false, "zero": false}, "axis": {"orient": "top", "values": [-5,0,5,10,15,20,25,30,35], "grid": true, "gridColor": "#000000", "gridWidth": 1, "domain": false, "ticks": false, "tickSize": 0, "labelPadding": 8, "labelFontSize": 14, "labelFlush": false, "labelOverlap": false, "title": "地中温度(℃)", "titleX": 210, "titleY": 19.5, "titleAlign": "center", "titleBaseline": "top", "titleFontSize": 13, "titleFontWeight": "normal"}},
   "y": {"datum": 10.52, "type": "quantitative", "scale": {"domain": [-10, 25], "nice": false, "zero": false}, "axis": {"values": [-10,-9,-8,-7,-6,-5,-4,-3,-2,-1,0,1,2,3,4,5,6,7,8,9,10,11,12,13,14,15,16,17,18,19,20,21,22,23,24,25], "grid": true, "gridColor": {"condition": {"test": "datum.value % 5 === 0", "value": "#000000"}, "value": "#808080"}, "gridWidth": 1.3, "domain": false, "tickSize": 4, "tickColor": "black", "tickOpacity": {"condition": {"test": "datum.value % 5 === 0", "value": 1}, "value": 0}, "labelExpr": "datum.value % 5 === 0 ? datum.label : ''", "labelOverlap": false, "labelPadding": 8, "labelFontSize": 14, "title": null}}}},
  {"data": {"name": "gw"}, "transform": [{"filter": "datum.panel === 'C'"}], "mark": {"type": "rule", "strokeWidth": 2.6}, "encoding": {
   "y": {"field": "elev", "type": "quantitative", "scale": {"domain": [-10, 25], "nice": false, "zero": false}, "axis": {"values": [-10,-9,-8,-7,-6,-5,-4,-3,-2,-1,0,1,2,3,4,5,6,7,8,9,10,11,12,13,14,15,16,17,18,19,20,21,22,23,24,25], "grid": true, "gridColor": {"condition": {"test": "datum.value % 5 === 0", "value": "#000000"}, "value": "#808080"}, "gridWidth": 1.3, "domain": false, "tickSize": 4, "tickColor": "black", "tickOpacity": {"condition": {"test": "datum.value % 5 === 0", "value": 1}, "value": 0}, "labelExpr": "datum.value % 5 === 0 ? datum.label : ''", "labelOverlap": false, "labelPadding": 8, "labelFontSize": 14, "title": null}},
   "color": {"field": "series", "type": "nominal", "legend": null, "scale": {"domain": ["H24.6.8","H24.9.5","H24.11.7","H25.2.14","H25.6.6","H25.9.5","H25.11.7","H26.2.13","地下水位(H24.6)","地下水位(H24.9)","地下水位(H24.11)","地下水位(H25.2)","地下水位(H25.6)","地下水位(H25.9)","地下水位(H25.11)","地下水位(H26.2)","地盤標高"], "range": ["#FF0000","#FF00FF","#0000FF","#008000","#FF0000","#FF00FF","#0000FF","#008000","#FF0000","#FF00FF","#0000FF","#008000","#FF0000","#FF00FF","#0000FF","#008000","#000000"]}},
   "strokeDash": {"field": "series", "type": "nominal", "legend": null, "scale": {"domain": ["地下水位(H24.6)","地下水位(H24.9)","地下水位(H24.11)","地下水位(H25.2)","地下水位(H25.6)","地下水位(H25.9)","地下水位(H25.11)","地下水位(H26.2)"], "range": [[6,4],[6,4],[6,4],[6,4],[16,6],[16,6],[16,6],[16,6]]}}}},
  {"data": {"name": "ground"}, "transform": [{"filter": "datum.panel === 'C'"}], "mark": {"type": "rule", "strokeWidth": 2.6, "color": "black"}, "encoding": {
   "y": {"field": "elev", "type": "quantitative", "scale": {"domain": [-10, 25], "nice": false, "zero": false}, "axis": {"values": [-10,-9,-8,-7,-6,-5,-4,-3,-2,-1,0,1,2,3,4,5,6,7,8,9,10,11,12,13,14,15,16,17,18,19,20,21,22,23,24,25], "grid": true, "gridColor": {"condition": {"test": "datum.value % 5 === 0", "value": "#000000"}, "value": "#808080"}, "gridWidth": 1.3, "domain": false, "tickSize": 4, "tickColor": "black", "tickOpacity": {"condition": {"test": "datum.value % 5 === 0", "value": 1}, "value": 0}, "labelExpr": "datum.value % 5 === 0 ? datum.label : ''", "labelOverlap": false, "labelPadding": 8, "labelFontSize": 14, "title": null}}}},
  {"data": {"name": "temp"}, "transform": [{"filter": "datum.panel === 'C'"}], "mark": {"type": "line"}, "encoding": {
   "x": {"field": "temp", "type": "quantitative", "scale": {"domain": [-5, 35], "nice": false, "zero": false}, "axis": {"orient": "top", "values": [-5,0,5,10,15,20,25,30,35], "grid": true, "gridColor": "#000000", "gridWidth": 1, "domain": false, "ticks": false, "tickSize": 0, "labelPadding": 8, "labelFontSize": 14, "labelFlush": false, "labelOverlap": false, "title": "地中温度(℃)", "titleX": 210, "titleY": 19.5, "titleAlign": "center", "titleBaseline": "top", "titleFontSize": 13, "titleFontWeight": "normal"}},
   "y": {"field": "elev", "type": "quantitative", "scale": {"domain": [-10, 25], "nice": false, "zero": false}, "axis": {"values": [-10,-9,-8,-7,-6,-5,-4,-3,-2,-1,0,1,2,3,4,5,6,7,8,9,10,11,12,13,14,15,16,17,18,19,20,21,22,23,24,25], "grid": true, "gridColor": {"condition": {"test": "datum.value % 5 === 0", "value": "#000000"}, "value": "#808080"}, "gridWidth": 1.3, "domain": false, "tickSize": 4, "tickColor": "black", "tickOpacity": {"condition": {"test": "datum.value % 5 === 0", "value": 1}, "value": 0}, "labelExpr": "datum.value % 5 === 0 ? datum.label : ''", "labelOverlap": false, "labelPadding": 8, "labelFontSize": 14, "title": null}},
   "order": {"field": "elev", "type": "quantitative"},
   "strokeWidth": {"field": "series", "type": "ordinal", "legend": null, "scale": {"type": "ordinal", "domain": ["H24.6.8","H24.9.5","H24.11.7","H25.2.14","H25.6.6","H25.9.5","H25.11.7","H26.2.13"], "range": [1.5,1.5,1.5,1.5,2.5,2.5,2.5,2.5]}},
   "color": {"field": "series", "type": "nominal", "legend": null, "scale": {"domain": ["H24.6.8","H24.9.5","H24.11.7","H25.2.14","H25.6.6","H25.9.5","H25.11.7","H26.2.13","地下水位(H24.6)","地下水位(H24.9)","地下水位(H24.11)","地下水位(H25.2)","地下水位(H25.6)","地下水位(H25.9)","地下水位(H25.11)","地下水位(H26.2)","地盤標高"], "range": ["#FF0000","#FF00FF","#0000FF","#008000","#FF0000","#FF00FF","#0000FF","#008000","#FF0000","#FF00FF","#0000FF","#008000","#FF0000","#FF00FF","#0000FF","#008000","#000000"]}}}},
  {"data": {"name": "temp"}, "transform": [{"filter": "datum.panel === 'C'"}], "mark": {"type": "circle", "strokeWidth": 1.3, "opacity": 1}, "encoding": {
   "x": {"field": "temp", "type": "quantitative", "scale": {"domain": [-5, 35], "nice": false, "zero": false}, "axis": {"orient": "top", "values": [-5,0,5,10,15,20,25,30,35], "grid": true, "gridColor": "#000000", "gridWidth": 1, "domain": false, "ticks": false, "tickSize": 0, "labelPadding": 8, "labelFontSize": 14, "labelFlush": false, "labelOverlap": false, "title": "地中温度(℃)", "titleX": 210, "titleY": 19.5, "titleAlign": "center", "titleBaseline": "top", "titleFontSize": 13, "titleFontWeight": "normal"}},
   "y": {"field": "elev", "type": "quantitative", "scale": {"domain": [-10, 25], "nice": false, "zero": false}, "axis": {"values": [-10,-9,-8,-7,-6,-5,-4,-3,-2,-1,0,1,2,3,4,5,6,7,8,9,10,11,12,13,14,15,16,17,18,19,20,21,22,23,24,25], "grid": true, "gridColor": {"condition": {"test": "datum.value % 5 === 0", "value": "#000000"}, "value": "#808080"}, "gridWidth": 1.3, "domain": false, "tickSize": 4, "tickColor": "black", "tickOpacity": {"condition": {"test": "datum.value % 5 === 0", "value": 1}, "value": 0}, "labelExpr": "datum.value % 5 === 0 ? datum.label : ''", "labelOverlap": false, "labelPadding": 8, "labelFontSize": 14, "title": null}},
   "fill": {"field": "series", "type": "nominal", "legend": null, "scale": {"domain": ["H24.6.8","H24.9.5","H24.11.7","H25.2.14","H25.6.6","H25.9.5","H25.11.7","H26.2.13"], "range": ["#FFFFFF","#FFFFFF","#FFFFFF","#FFFFFF","#FF0000","#FF00FF","#0000FF","#008000"]}},
   "size": {"field": "series", "type": "ordinal", "legend": null, "scale": {"type": "ordinal", "domain": ["H24.6.8","H24.9.5","H24.11.7","H25.2.14","H25.6.6","H25.9.5","H25.11.7","H26.2.13"], "range": [45,45,45,45,55,55,55,55]}},
   "stroke": {"field": "series", "type": "nominal", "legend": null, "scale": {"domain": ["H24.6.8","H24.9.5","H24.11.7","H25.2.14","H25.6.6","H25.9.5","H25.11.7","H26.2.13","地下水位(H24.6)","地下水位(H24.9)","地下水位(H24.11)","地下水位(H25.2)","地下水位(H25.6)","地下水位(H25.9)","地下水位(H25.11)","地下水位(H26.2)","地盤標高"], "range": ["#FF0000","#FF00FF","#0000FF","#008000","#FF0000","#FF00FF","#0000FF","#008000","#FF0000","#FF00FF","#0000FF","#008000","#FF0000","#FF00FF","#0000FF","#008000","#000000"]}}}}
 ]
},
{
 "width": 423, "height": 690,
 "view": {"stroke": null},
 "data": {"name": "legend"},
 "resolve": {"scale": {"y": "independent"}},
 "layer": [
  {"data": {"values": [{}]}, "mark": {"type": "rect", "filled": false, "stroke": "#404040", "strokeWidth": 1.2}, "encoding": {"x": {"datum": 3.06, "type": "quantitative", "scale": {"domain": [0, 10], "nice": false, "zero": false}, "axis": null}, "x2": {"datum": 10}, "y": {"datum": 1.0094, "type": "quantitative", "scale": {"domain": [0, 1], "nice": false, "zero": false}, "axis": null}, "y2": {"datum": -0.05}}},
  {"mark": {"type": "rule", "strokeWidth": 3.5}, "encoding": {"x": {"datum": 3.33, "type": "quantitative", "scale": {"domain": [0, 10], "nice": false, "zero": false}, "axis": null}, "x2": {"datum": 4.61}, "y": {"field": "series", "type": "nominal", "axis": null, "scale": {"type": "point", "padding": 0.354, "domain": ["H24.6.8","H24.9.5","H24.11.7","H25.2.14","H25.6.6","H25.9.5","H25.11.7","H26.2.13","地下水位(H24.6)","地下水位(H24.9)","地下水位(H24.11)","地下水位(H25.2)","地下水位(H25.6)","地下水位(H25.9)","地下水位(H25.11)","地下水位(H26.2)","地盤標高"]}}, "color": {"field": "series", "type": "nominal", "legend": null, "scale": {"domain": ["H24.6.8","H24.9.5","H24.11.7","H25.2.14","H25.6.6","H25.9.5","H25.11.7","H26.2.13","地下水位(H24.6)","地下水位(H24.9)","地下水位(H24.11)","地下水位(H25.2)","地下水位(H25.6)","地下水位(H25.9)","地下水位(H25.11)","地下水位(H26.2)","地盤標高"], "range": ["#FF0000","#FF00FF","#0000FF","#008000","#FF0000","#FF00FF","#0000FF","#008000","#FF0000","#FF00FF","#0000FF","#008000","#FF0000","#FF00FF","#0000FF","#008000","#000000"]}}, "strokeDash": {"field": "series", "type": "nominal", "legend": null, "scale": {"domain": ["H24.6.8","H24.9.5","H24.11.7","H25.2.14","H25.6.6","H25.9.5","H25.11.7","H26.2.13","地下水位(H24.6)","地下水位(H24.9)","地下水位(H24.11)","地下水位(H25.2)","地下水位(H25.6)","地下水位(H25.9)","地下水位(H25.11)","地下水位(H26.2)","地盤標高"], "range": [[1,0],[1,0],[1,0],[1,0],[1,0],[1,0],[1,0],[1,0],[8,3.5],[8,3.5],[8,3.5],[8,3.5],[30,13],[30,13],[30,13],[30,13],[1,0]]}}}},
  {"transform": [{"filter": {"field": "kind", "oneOf": ["open", "filled"]}}], "mark": {"type": "circle", "size": 180, "strokeWidth": 2, "opacity": 1}, "encoding": {"x": {"datum": 3.95, "type": "quantitative", "scale": {"domain": [0, 10], "nice": false, "zero": false}, "axis": null}, "y": {"field": "series", "type": "nominal", "axis": null, "scale": {"type": "point", "padding": 0.354, "domain": ["H24.6.8","H24.9.5","H24.11.7","H25.2.14","H25.6.6","H25.9.5","H25.11.7","H26.2.13","地下水位(H24.6)","地下水位(H24.9)","地下水位(H24.11)","地下水位(H25.2)","地下水位(H25.6)","地下水位(H25.9)","地下水位(H25.11)","地下水位(H26.2)","地盤標高"]}}, "fill": {"field": "series", "type": "nominal", "legend": null, "scale": {"domain": ["H24.6.8","H24.9.5","H24.11.7","H25.2.14","H25.6.6","H25.9.5","H25.11.7","H26.2.13"], "range": ["#FFFFFF","#FFFFFF","#FFFFFF","#FFFFFF","#FF0000","#FF00FF","#0000FF","#008000"]}}, "stroke": {"field": "series", "type": "nominal", "legend": null, "scale": {"domain": ["H24.6.8","H24.9.5","H24.11.7","H25.2.14","H25.6.6","H25.9.5","H25.11.7","H26.2.13","地下水位(H24.6)","地下水位(H24.9)","地下水位(H24.11)","地下水位(H25.2)","地下水位(H25.6)","地下水位(H25.9)","地下水位(H25.11)","地下水位(H26.2)","地盤標高"], "range": ["#FF0000","#FF00FF","#0000FF","#008000","#FF0000","#FF00FF","#0000FF","#008000","#FF0000","#FF00FF","#0000FF","#008000","#FF0000","#FF00FF","#0000FF","#008000","#000000"]}}}},
  {"mark": {"type": "text", "align": "left", "baseline": "middle", "fontSize": 25, "font": "Noto Sans CJK JP", "color": "black"}, "encoding": {"x": {"datum": 4.73, "type": "quantitative", "scale": {"domain": [0, 10], "nice": false, "zero": false}, "axis": null}, "y": {"field": "series", "type": "nominal", "axis": null, "scale": {"type": "point", "padding": 0.354, "domain": ["H24.6.8","H24.9.5","H24.11.7","H25.2.14","H25.6.6","H25.9.5","H25.11.7","H26.2.13","地下水位(H24.6)","地下水位(H24.9)","地下水位(H24.11)","地下水位(H25.2)","地下水位(H25.6)","地下水位(H25.9)","地下水位(H25.11)","地下水位(H26.2)","地盤標高"]}}, "text": {"field": "series"}}}
 ]
}
]
}
